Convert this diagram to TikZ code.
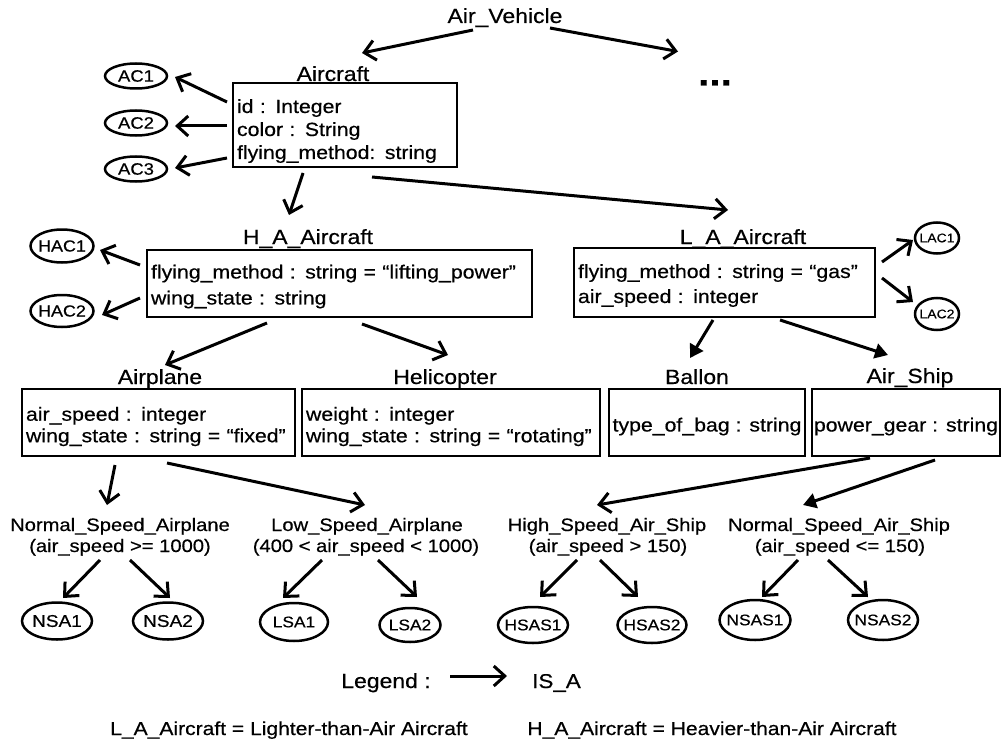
\documentclass[tikz,border=0pt]{standalone}
\usepackage{fontspec}
\setmainfont[FakeStretch=1.12,FakeBold=0.5]{Liberation Sans}
\usetikzlibrary{arrows.meta,shapes.geometric,calc}
\begin{document}
\begin{tikzpicture}[x=1pt,y=-1pt,
  hdr/.style={anchor=base,inner sep=0pt,font=\fontsize{20.5}{24}\selectfont},
  sub/.style={anchor=base,inner sep=0pt,font=\fontsize{18}{21}\selectfont},
  cbox/.style={draw,line width=2.6pt,inner xsep=4pt,inner ysep=2pt,align=left,
    font=\fontsize{19}{23}\selectfont},
  inst/.style={draw,ellipse,line width=2.5pt,inner sep=0pt},
  isa/.style={-{Straight Barb[length=11pt,width=20pt]},line width=3pt},
  isaf/.style={-{Triangle[length=13pt,width=15pt]},line width=3pt}]
\useasboundingbox (0,0) rectangle (1001,741);

% class names
\node[hdr] (av) at (505,23) {Air\_Vehicle};
\node[anchor=base,inner sep=0pt,font=\fontsize{36}{36}\bfseries\selectfont] (dots) at (715,85.5) {...};
\node[hdr] (aclab) at (333,81) {Aircraft};
\node[hdr] (halab) at (308,244) {H\_A\_Aircraft};
\node[hdr] (lalab) at (743,244) {L\_A\_Aircraft};
\node[hdr] (aplab) at (160,384) {Airplane};
\node[hdr] (helab) at (445,384) {Helicopter};
\node[hdr] (balab) at (697,384) {Ballon};
\node[hdr] (aslab) at (910,383) {Air\_Ship};

% attribute boxes
\node[cbox,minimum width=224pt,minimum height=84pt,text width=216pt] (ac) at (345,125)
  {\rule{0pt}{25.9pt}id : Integer\\color : String\\flying\_method: string};
\node[cbox,minimum width=385pt,minimum height=67pt,text width=377pt,font=\fontsize{19}{26}\selectfont] (ha) at (339.5,283.5)
  {\rule{0pt}{19.9pt}flying\_method : string = “lifting\_power”\\wing\_state : string};
\node[cbox,minimum width=301pt,minimum height=69pt,text width=293pt,font=\fontsize{19}{25}\selectfont] (la) at (724.5,282.5)
  {\rule{0pt}{19.9pt}flying\_method : string = “gas”\\air\_speed : integer};
\node[cbox,minimum width=273pt,minimum height=67pt,text width=265pt,font=\fontsize{19}{21.5}\selectfont] (ap) at (158.5,422.5)
  {\rule{0pt}{21.9pt}air\_speed : integer\\wing\_state : string = “fixed”};
\node[cbox,minimum width=298pt,minimum height=67pt,text width=290pt,font=\fontsize{19}{21.5}\selectfont] (he) at (451,422.5)
  {\rule{0pt}{21.9pt}weight : integer\\wing\_state : string = “rotating”};
\node[cbox,align=center,inner xsep=2pt,minimum width=196pt,minimum height=67pt] (ba) at (707,422.5)
  {\rule{0pt}{21.9pt}type\_of\_bag : string};
\node[cbox,align=center,inner xsep=2pt,minimum width=186pt,minimum height=67pt] (as) at (906,422.5)
  {\rule{0pt}{21.9pt}power\_gear : string};

% subclass names with conditions
\node[sub] (nsa) at (120,531) {Normal\_Speed\_Airplane};
\node[sub] (nsac) at (120,552) {(air\_speed >= 1000)};
\node[sub] (lsa) at (367,531) {Low\_Speed\_Airplane};
\node[sub] (lsac) at (366,552) {(400 < air\_speed < 1000)};
\node[sub] (hsas) at (607,531) {High\_Speed\_Air\_Ship};
\node[sub] (hsasc) at (608,552) {(air\_speed > 150)};
\node[sub] (nsas) at (839,531) {Normal\_Speed\_Air\_Ship};
\node[sub] (nsasc) at (840,552) {(air\_speed <= 150)};

% instances
\node[inst,minimum width=62pt,minimum height=25pt,font=\fontsize{16.5}{16}\selectfont] (ac1) at (136,76) {\makebox[0pt]{AC1}};
\node[inst,minimum width=62pt,minimum height=25pt,font=\fontsize{16.5}{16}\selectfont] (ac2) at (136,123) {\makebox[0pt]{AC2}};
\node[inst,minimum width=62pt,minimum height=25pt,font=\fontsize{16.5}{16}\selectfont] (ac3) at (136,169) {\makebox[0pt]{AC3}};
\node[inst,minimum width=63pt,minimum height=33pt,font=\fontsize{16}{16}\selectfont] (hac1) at (62,246) {\makebox[0pt]{HAC1}};
\node[inst,minimum width=63pt,minimum height=32pt,font=\fontsize{16}{16}\selectfont] (hac2) at (62,311) {\makebox[0pt]{HAC2}};
\node[inst,minimum width=44pt,minimum height=31pt,font=\fontsize{12.5}{13}\selectfont] (lac1) at (937,238) {\makebox[0pt]{LAC1}};
\node[inst,minimum width=44pt,minimum height=32pt,font=\fontsize{12.5}{13}\selectfont] (lac2) at (937,314) {\makebox[0pt]{LAC2}};
\node[inst,minimum width=70pt,minimum height=37pt,font=\fontsize{17}{17}\selectfont] (nsa1) at (57,621) {\makebox[0pt]{NSA1}};
\node[inst,minimum width=70pt,minimum height=37pt,font=\fontsize{17}{17}\selectfont] (nsa2) at (168,621) {\makebox[0pt]{NSA2}};
\node[inst,minimum width=68pt,minimum height=38pt,font=\fontsize{15.5}{16}\selectfont] (lsa1) at (294,622) {\makebox[0pt]{LSA1}};
\node[inst,minimum width=61pt,minimum height=34pt,font=\fontsize{15.5}{16}\selectfont] (lsa2) at (410,625) {\makebox[0pt]{LSA2}};
\node[inst,minimum width=70pt,minimum height=36pt,font=\fontsize{15.5}{16}\selectfont] (hsas1) at (533,625) {\makebox[0pt]{HSAS1}};
\node[inst,minimum width=69pt,minimum height=36pt,font=\fontsize{15.5}{16}\selectfont] (hsas2) at (652,625) {\makebox[0pt]{HSAS2}};
\node[inst,minimum width=71pt,minimum height=40pt,font=\fontsize{15.5}{16}\selectfont] (nsas1) at (755,620) {\makebox[0pt]{NSAS1}};
\node[inst,minimum width=70pt,minimum height=40pt,font=\fontsize{15.5}{16}\selectfont] (nsas2) at (883,620) {\makebox[0pt]{NSAS2}};

% legend and notes
\node[hdr] (leg) at (386,688) {Legend :};
\node[anchor=base,inner sep=0pt,font=\fontsize{20}{24}\selectfont] (isatxt) at (556.5,688) {IS\_A};
\node[anchor=base,inner sep=0pt,font=\fontsize{18.8}{22}\selectfont] (noteL) at (289,735) {L\_A\_Aircraft = Lighter-than-Air Aircraft};
\node[anchor=base,inner sep=0pt,font=\fontsize{18.8}{22}\selectfont] (noteH) at (712,735) {H\_A\_Aircraft = Heavier-than-Air Aircraft};

% IS_A connectors
\draw[isa] ($(av.base)+(-32,7)$) -- ($(aclab.base)+(29,-28)$);
\draw[isa] ($(av.base)+(45,5)$) -- ($(dots.base)+(-37,-34)$);
\draw[isa] ($(ac)+(-118,-23)$) -- ($(ac1)+(39,1)$);
\draw[isa] ($(ac)+(-118,1)$) -- ($(ac2)+(39,3)$);
\draw[isa] ($(ac)+(-118,33)$) -- ($(ac3)+(39,-1)$);
\draw[isa] ($(ac)+(-42,48)$) -- ($(halab.base)+(-19,-29)$);
\draw[isa] ($(ac)+(27,52)$) -- ($(lalab.base)+(-15,-34)$);
\draw[isa] ($(ha)+(-199.5,-18.5)$) -- ($(hac1)+(38,4)$);
\draw[isa] ($(ha)+(-199.5,14.5)$) -- ($(hac2)+(40,4)$);
\draw[isa] ($(la)+(157.5,-20.5)$) -- ($(lac1)+(-24,2)$);
\draw[isa] ($(la)+(157.5,-4.5)$) -- ($(lac2)+(-24,-12)$);
\draw[isa] ($(ha)+(-72.5,39.5)$) -- ($(aplab.base)+(5,-19)$);
\draw[isa] ($(ha)+(22.5,40.5)$) -- ($(helab.base)+(3,-29)$);
\draw[isaf] ($(la)+(-11.5,37.5)$) -- ($(balab.base)+(-7,-26)$);
\draw[isaf] ($(la)+(55.5,37.5)$) -- ($(aslab.base)+(-22,-28)$);
\draw[isa] ($(ap)+(-43.5,42.5)$) -- ($(nsa.base)+(-13,-26)$);
\draw[isa] ($(ap)+(8.5,40.5)$) -- ($(lsa.base)+(-2,-26)$);
\draw[isa] ($(as)+(-36,35.5)$) -- ($(hsas.base)+(-10,-26)$);
\draw[isaf] ($(as)+(29,37.5)$) -- ($(nsas.base)+(-36,-26)$);
\draw[isa] ($(nsac.base)+(-20,8)$) -- ($(nsa1)+(6,-23)$);
\draw[isa] ($(nsac.base)+(10,8)$) -- ($(nsa2)+(2,-23)$);
\draw[isa] ($(lsac.base)+(-44,8)$) -- ($(lsa1)+(-11,-24)$);
\draw[isa] ($(lsac.base)+(12,8)$) -- ($(lsa2)+(7,-28)$);
\draw[isa] ($(hsasc.base)+(-31,8)$) -- ($(hsas1)+(7,-28)$);
\draw[isa] ($(hsasc.base)+(-8,8)$) -- ($(hsas2)+(-14,-28)$);
\draw[isa] ($(nsasc.base)+(-42,8)$) -- ($(nsas1)+(7,-23)$);
\draw[isa] ($(nsasc.base)+(-12,8)$) -- ($(nsas2)+(-15,-23)$);
\draw[isa] ($(leg.base)+(64,-12)$) -- ($(isatxt.base)+(-49.5,-12)$);
\end{tikzpicture}
\end{document}
